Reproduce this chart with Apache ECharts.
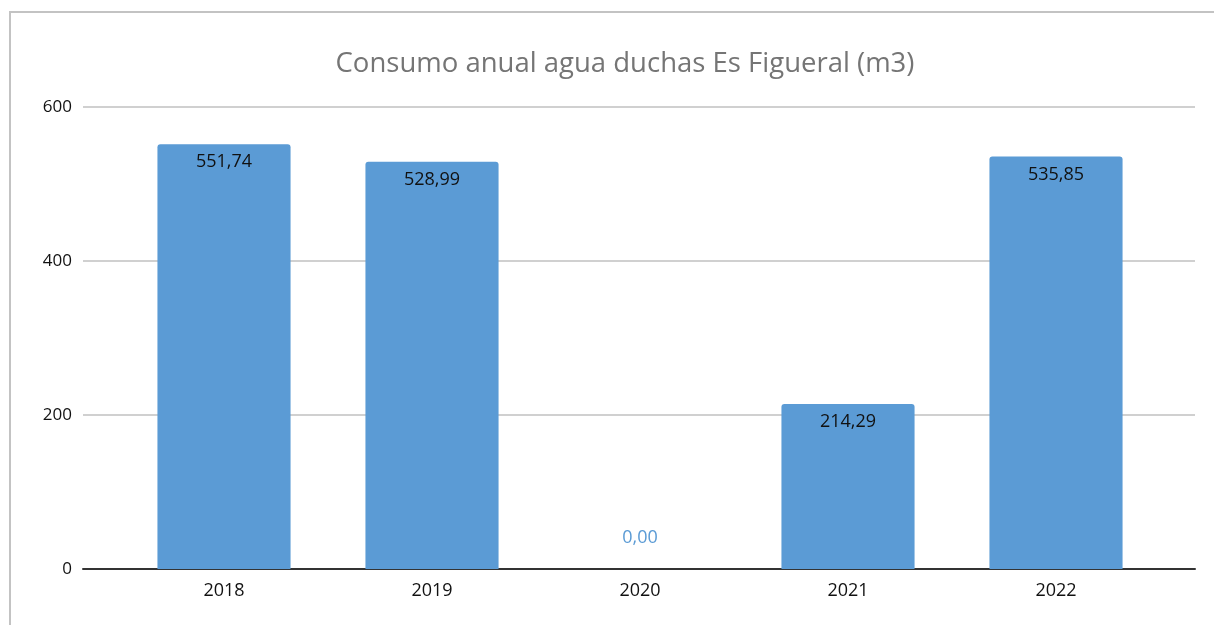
<!DOCTYPE html>
<html>
<head>
<meta charset="utf-8">
<script src="https://cdn.jsdelivr.net/npm/echarts@6/dist/echarts.min.js"></script>
<style>
  html, body { margin: 0; padding: 0; background: #fff; overflow: hidden; }
  #frame { position: absolute; left: 9px; top: 11px; width: 1230px; height: 640px; border: 2px solid #c3c3c3; box-sizing: border-box; }
  #main { position: absolute; left: 0; top: 0; width: 1214px; height: 625px; }
</style>
</head>
<body>
<div id="frame"></div>
<div id="main"></div>
<script>
var years = ["2018", "2019", "2020", "2021", "2022"];
var consumo = [551.74, 528.99, 0, 214.29, 535.85];
var yTicks = [0, 200, 400, 600];

var myChart = echarts.init(document.getElementById("main"));

function fmt(v) {
  return v.toFixed(2).replace(".", ",");
}

var barData = consumo.map(function (v) {
  if (v === 0) {
    return {
      value: v,
      label: { position: "top", distance: 22, color: "#5b9bd5" }
    };
  }
  return v;
});

var labelFont = "Open Sans";

// grid 0: wide plot area (gridlines + axis line), grid 1: bars
var option = {
  backgroundColor: "transparent",
  title: {
    text: "Consumo anual agua duchas Es Figueral (m3)",
    left: 620,
    textAlign: "center",
    top: 45,
    textStyle: {
      fontFamily: labelFont,
      fontWeight: "normal",
      fontSize: 27.5,
      color: "#757575"
    }
  },
  grid: [
    { left: 83, right: 19, top: 107, bottom: 56 },
    { left: 120, right: 54, top: 107, bottom: 56 }
  ],
  xAxis: [
    {
      type: "category",
      gridIndex: 0,
      data: [""],
      axisLine: { lineStyle: { color: "#333", width: 2 } },
      axisTick: { show: false },
      axisLabel: { show: false }
    },
    {
      type: "category",
      gridIndex: 1,
      data: years,
      axisLine: { show: false },
      axisTick: { show: false },
      axisLabel: { color: "#111", fontSize: 18, margin: 13, fontFamily: labelFont }
    }
  ],
  yAxis: [
    {
      type: "value",
      gridIndex: 0,
      min: yTicks[0],
      max: yTicks[yTicks.length - 1],
      interval: 200,
      axisLine: { show: false },
      axisTick: { show: false },
      axisLabel: { color: "#111", fontSize: 17, margin: 11, fontFamily: labelFont },
      splitLine: { lineStyle: { color: "#d0d0d0", width: 2 } }
    },
    {
      type: "value",
      gridIndex: 1,
      min: yTicks[0],
      max: yTicks[yTicks.length - 1],
      interval: 200,
      show: false
    }
  ],
  series: [
    {
      type: "bar",
      xAxisIndex: 1,
      yAxisIndex: 1,
      data: barData,
      barWidth: "64%",
      itemStyle: { color: "#5b9bd5", borderRadius: [3, 3, 0, 0] },
      label: {
        show: true,
        position: "insideTop",
        distance: 9,
        color: "#111",
        fontSize: 18,
        fontFamily: labelFont,
        formatter: function (p) { return fmt(p.value); }
      },
      z: 3
    }
  ]
};

myChart.setOption(option);
</script>
</body>
</html>
